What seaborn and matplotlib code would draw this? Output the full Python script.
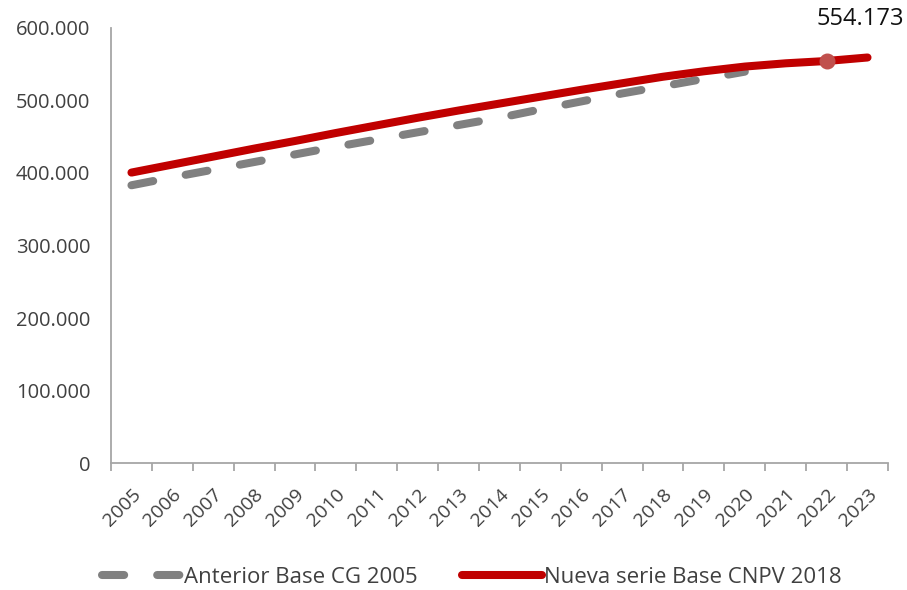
import matplotlib
matplotlib.use("Agg")
import matplotlib.pyplot as plt
import matplotlib.ticker as mticker
import pandas as pd
import seaborn as sns

# Data
years = list(range(2005, 2024))
anterior = [383000, 394000, 404500, 415000, 425500, 436000, 446000, 456000,
            466000, 476000, 487500, 498500, 509500, 519500, 529500, 539500]
nueva = [400500, 411500, 422500, 433500, 444000, 455000, 465500, 476000,
         486000, 495500, 505000, 514500, 523500, 532500, 540000, 546500,
         551000, 554173, 559000]
label_year = 2022
series_names = ["Anterior Base CG 2005", "Nueva serie Base CNPV 2018"]

RED = "#C00000"
GRAY = "#808080"
TEXT = "#404040"

sns.set_theme(style="white")
plt.rcParams["font.family"] = ["Open Sans", "DejaVu Sans"]

df_ant = pd.DataFrame({"year": years[:len(anterior)], "value": anterior})
df_new = pd.DataFrame({"year": years, "value": nueva})

fig = plt.figure(figsize=(9.07, 5.90), dpi=100)
ax = fig.add_axes([0.1224, 0.2147, 0.8566, 0.7383])

sns.lineplot(data=df_ant, x="year", y="value", ax=ax, color=GRAY, lw=5.8,
             label=series_names[0], dash_capstyle="round",
             solid_capstyle="round")
ax.lines[-1].set_dashes((2.75, 4.1))
sns.lineplot(data=df_new, x="year", y="value", ax=ax, color=RED, lw=5.8,
             label=series_names[1], solid_capstyle="round")

# highlighted point
lab_val = nueva[years.index(label_year)]
ax.plot([label_year], [lab_val], "o", color="#C0504D", ms=10.5, zorder=5)
ax.annotate(f"{lab_val:,}".replace(",", "."), (label_year, lab_val),
            xytext=(24, 30), textcoords="offset points", ha="center",
            va="center", fontsize=17, color="#111111", annotation_clip=False)

ax.set_xlim(years[0] - 0.5, years[-1] + 0.5)
ax.set_ylim(0, 600000)
ax.yaxis.set_major_locator(mticker.MultipleLocator(100000))
ax.yaxis.set_major_formatter(
    mticker.FuncFormatter(lambda v, p: f"{int(v):,}".replace(",", ".")))

ax.set_xticks(years)
ax.set_xticklabels([str(y) for y in years], rotation=45, ha="right",
                   rotation_mode="anchor")
ax.set_xticks([y + 0.5 for y in [years[0] - 1] + years], minor=True)
ax.tick_params(axis="x", which="major", length=0, pad=16, labelsize=14,
               labelcolor=TEXT)
ax.tick_params(axis="x", which="minor", length=6, width=1.3, color="#A6A6A6",
               direction="out", bottom=True)
ax.tick_params(axis="y", length=0, pad=15, labelsize=14.5, labelcolor=TEXT)
ax.set_xlabel("")
ax.set_ylabel("")

for side in ["top", "right"]:
    ax.spines[side].set_visible(False)
for side in ["left", "bottom"]:
    ax.spines[side].set_color("#A6A6A6")
    ax.spines[side].set_linewidth(1.3)

ax.legend_.remove()
handles, labels = ax.get_legend_handles_labels()
fig.legend(handles[:2], labels[:2], loc="center", bbox_to_anchor=(0.52, 0.021),
           ncol=2, frameon=False, fontsize=16, handlelength=3.6,
           handletextpad=0.1, columnspacing=2.0, labelcolor=TEXT)

fig.savefig("out.png", dpi=100)
